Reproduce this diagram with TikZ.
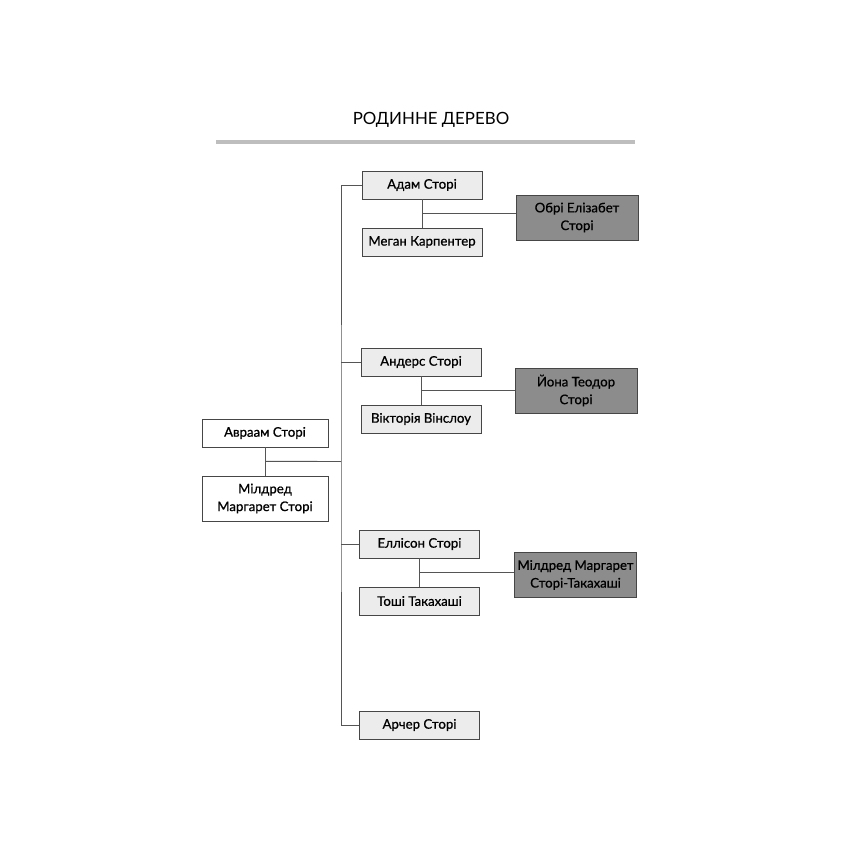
\documentclass[tikz,border=0pt]{standalone}
\usepackage{fontspec}
\setmainfont{Lato}[FakeBold=0.8]
\newfontfamily\titlefont{Lato}
\usepackage{xcolor}
\usepackage{tikz}
\usetikzlibrary{calc}
\definecolor{cline}{RGB}{85, 85, 85}
\definecolor{cedge}{RGB}{70, 70, 70}
\definecolor{clightgray}{RGB}{236, 236, 236}
\definecolor{cdarkgray}{RGB}{140, 140, 140}
\definecolor{crule}{RGB}{190, 190, 190}

\begin{document}
\begin{tikzpicture}[
  x=0.025cm, y=-0.025cm,
  font=\fontsize{9.4}{12.6}\selectfont,
  person/.style={rectangle, draw=cedge, line width=0.5pt, fill=clightgray, minimum width=3cm, minimum height=0.7cm, inner sep=1pt, text centered},
  elder/.style={person, fill=white, minimum width=3.15cm},
  child/.style={person, fill=cdarkgray, minimum width=3.05cm, minimum height=1.13cm, align=center},
  link/.style={draw=cline, line width=0.7pt},
]
\useasboundingbox (0,0) rectangle (850,850);

% ---- Title ----
\node[font=\titlefont\fontsize{12}{14}\selectfont] (title) at (431, 120) {РОДИННЕ ДЕРЕВО};
\draw[crule, line width=2.5pt] (216, 142) -- (635, 142);

% ---- Parents ----
\node[elder] (avraam) at (265, 433) {Авраам Сторі};
\node[elder, minimum height=1.13cm, align=center] (mildred) at (265, 498.5) {Мілдред\\Маргарет Сторі};
\coordinate (trunk) at (341, 461.5);

% ---- Adam ----
\node[person] (adam) at (422, 185) {Адам Сторі};
\node[person] (megan) at (422, 242) {Меган Карпентер};
\node[child] (obri) at (577, 217.5) {Обрі Елізабет\\Сторі};

% ---- Anders ----
\node[person] (anders) at (421, 362) {Андерс Сторі};
\node[person] (viktoria) at (421, 419) {Вікторія Вінслоу};
\node[child] (yona) at (576, 390.5) {Йона Теодор\\Сторі};

% ---- Ellison ----
\node[person] (ellison) at (419.5, 544) {Еллісон Сторі};
\node[person] (toshi) at (419.5, 601) {Тоші Такахаші};
\node[child] (mildredt) at (575.5, 575) {Мілдред Маргарет\\Сторі-Такахаші};

% ---- Archer ----
\node[person] (archer) at (419.5, 725) {Арчер Сторі};

% ---- Lines ----
\draw[link] (avraam.south) -- (mildred.north);
\draw[link] ($(avraam.south)!0.5!(mildred.north)$) -- (trunk);
\draw[link] (adam.west) -| (trunk) |- (archer.west);
\draw[link] (anders.west) -- (trunk |- anders.west);
\draw[link] (ellison.west) -- (trunk |- ellison.west);

\draw[link] (adam.south) -- (megan.north);
\draw[link] ($(adam.south)!0.5!(megan.north)$) -- (obri.west |- {$(adam.south)!0.5!(megan.north)$});
\draw[link] (anders.south) -- (viktoria.north);
\draw[link] ($(anders.south)!0.5!(viktoria.north)$) -- (yona.west |- {$(anders.south)!0.5!(viktoria.north)$});
\draw[link] (ellison.south) -- (toshi.north);
\draw[link] ($(ellison.south)!0.5!(toshi.north)$) -- (mildredt.west |- {$(ellison.south)!0.5!(toshi.north)$});

\end{tikzpicture}
\end{document}
